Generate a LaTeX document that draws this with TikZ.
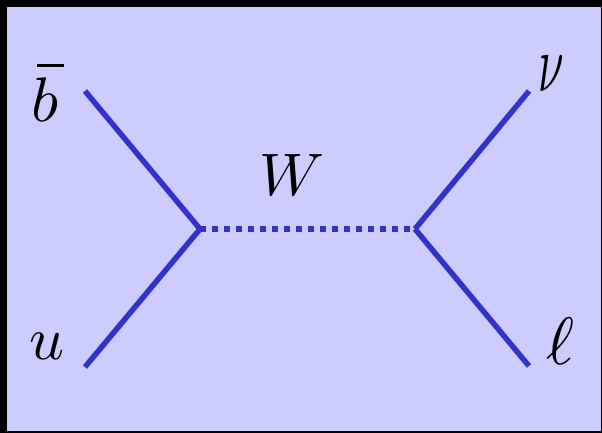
\documentclass[tikz,border=0pt]{standalone}
\begin{document}
\begin{tikzpicture}[x=1pt,y=-1pt,
  prop/.style={draw=fermion,line width=5.5pt},
  wprop/.style={draw=fermion,line width=5.5pt,dash pattern=on 5.5pt off 6.5pt},
  lab/.style={anchor=base,inner sep=0pt}]
\definecolor{fermion}{HTML}{3333CC}
\definecolor{bg}{HTML}{CCCCFF}
\useasboundingbox (0,0) rectangle (602,433);
\fill[black] (0,0) rectangle (602,433);
\fill[bg] (7,7) rectangle (601,431);
\coordinate (v1) at (200,229);
\coordinate (v2) at (415,229);
\coordinate (bend) at (85,91);
\coordinate (uend) at (85,367);
\coordinate (nuend) at (529,91);
\coordinate (lend) at (529,366);
\draw[prop] (bend) -- (v1);
\draw[prop] (uend) -- (v1);
\draw[prop] (nuend) -- (v2);
\draw[prop] (lend) -- (v2);
\draw[wprop] (v1) -- (v2);
\node[lab] (b) at (45,122) {\scalebox{6.3}{\makebox[0pt][l]{\hspace{0.87pt}\rule[8.7pt]{4.3pt}{0.48pt}}$b$}};
\node[lab] (u) at (47,359) {\scalebox{6.1}{$u$}};
\node[lab] (W) at (292,195) {\scalebox{6.0}{$W$}};
\node[lab] (nu) at (551,92) {\scalebox{4.6}[8.2]{$\nu$}};
\node[lab] (l) at (560,364) {\scalebox{6.7}{$\ell$}};
\end{tikzpicture}
\end{document}
